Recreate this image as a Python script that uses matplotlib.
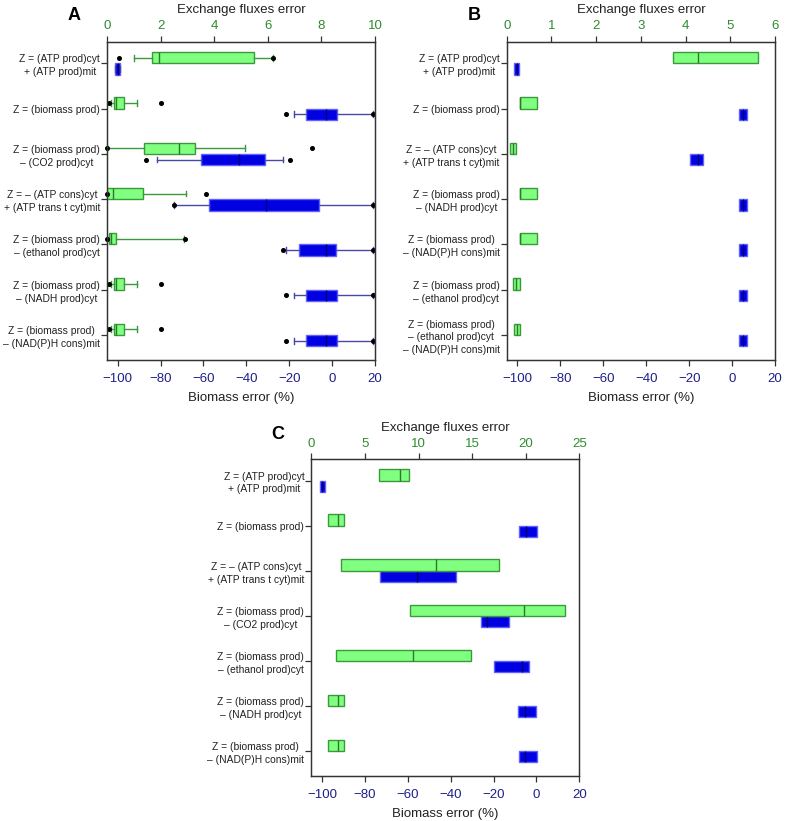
import matplotlib
matplotlib.use("Agg")
import matplotlib.pyplot as plt
import numpy as np
from matplotlib import font_manager

# ---------------- data ----------------
labels_AC = [
    "Z = (ATP prod)cyt\n+ (ATP prod)mit",
    "Z = (biomass prod)",
    "Z = (biomass prod)\n– (CO2 prod)cyt",
    "Z = – (ATP cons)cyt\n+ (ATP trans t cyt)mit",
    "Z = (biomass prod)\n– (ethanol prod)cyt",
    "Z = (biomass prod)\n– (NADH prod)cyt",
    "Z = (biomass prod)\n– (NAD(P)H cons)mit",
]
labels_C = [
    "Z = (ATP prod)cyt\n+ (ATP prod)mit",
    "Z = (biomass prod)",
    "Z = – (ATP cons)cyt\n+ (ATP trans t cyt)mit",
    "Z = (biomass prod)\n– (CO2 prod)cyt",
    "Z = (biomass prod)\n– (ethanol prod)cyt",
    "Z = (biomass prod)\n– (NADH prod)cyt",
    "Z = (biomass prod)\n– (NAD(P)H cons)mit",
]
labels_B = [
    "Z = (ATP prod)cyt\n+ (ATP prod)mit",
    "Z = (biomass prod)",
    "Z = – (ATP cons)cyt\n+ (ATP trans t cyt)mit",
    "Z = (biomass prod)\n– (NADH prod)cyt",
    "Z = (biomass prod)\n– (NAD(P)H cons)mit",
    "Z = (biomass prod)\n– (ethanol prod)cyt",
    "Z = (biomass prod)\n– (ethanol prod)cyt\n– (NAD(P)H cons)mit",
]

# Panel A: exchange fluxes error (green, top axis)
A_green_lo = [1.02, 0.14, 0.00, 0.01, 0.07, 0.14, 0.14]
A_green_q1 = [1.69, 0.27, 1.39, 0.01, 0.07, 0.27, 0.27]
A_green_med = [1.93, 0.33, 2.70, 0.21, 0.15, 0.33, 0.33]
A_green_q3 = [5.50, 0.62, 3.27, 1.35, 0.34, 0.62, 0.62]
A_green_hi = [6.19, 1.12, 5.16, 2.94, 2.87, 1.12, 1.12]
A_green_dots = [[0.46, 6.19], [0.07, 2.02], [-0.01, 7.66], [0.0, 3.68],
                [0.0, 2.90], [0.07, 2.02], [0.07, 2.02]]
# Panel A: biomass error (blue, bottom axis)
A_blue_lo = [-101.3, -17.9, -81.8, -73.7, -21.5, -17.9, -17.9]
A_blue_q1 = [-101.3, -12.0, -61.2, -57.2, -15.6, -12.0, -12.0]
A_blue_med = [-100.0, -2.7, -43.6, -30.8, -3.0, -2.7, -2.7]
A_blue_q3 = [-98.9, 2.2, -31.5, -5.9, 1.9, 2.2, 2.2]
A_blue_hi = [-98.9, 19.2, -22.9, 19.2, 19.2, 19.2, 19.2]
A_blue_dots = [[], [-21.5, 19.2], [-86.8, -19.5], [-73.7, 19.2],
               [-23.1, 19.2], [-21.5, 19.2], [-21.5, 19.2]]

# Panel B
B_green_q1 = [3.73, 0.30, 0.07, 0.30, 0.30, 0.13, 0.17]
B_green_med = [4.27, 0.30, 0.13, 0.30, 0.30, 0.20, 0.22]
B_green_q3 = [5.63, 0.67, 0.20, 0.67, 0.67, 0.30, 0.30]
B_blue_q1 = [-101.4, 3.0, -19.7, 3.0, 3.0, 3.0, 3.0]
B_blue_med = [-100.0, 5.0, -16.0, 5.0, 5.0, 5.0, 5.0]
B_blue_q3 = [-99.3, 6.9, -13.4, 6.9, 6.9, 6.9, 6.9]

# Panel C
C_green_q1 = [6.34, 1.59, 2.77, 9.21, 2.30, 1.59, 1.59]
C_green_med = [8.30, 2.52, 11.60, 19.84, 9.51, 2.52, 2.52]
C_green_q3 = [9.14, 3.08, 17.51, 23.67, 14.86, 3.08, 3.08]
C_blue_q1 = [-100.8, -8.3, -72.9, -25.9, -19.7, -8.5, -8.2]
C_blue_med = [-100.0, -4.9, -55.8, -23.2, -6.5, -5.4, -5.1]
C_blue_q3 = [-98.8, 0.3, -37.5, -12.7, -3.5, 0.0, 0.3]

bottom_ticks = [-100, -80, -60, -40, -20, 0, 20]
A_top_ticks = [0, 2, 4, 6, 8, 10]
B_top_ticks = [0, 1, 2, 3, 4, 5, 6]
C_top_ticks = [0, 5, 10, 15, 20, 25]

# ---------------- style ----------------
names = {f.name for f in font_manager.fontManager.ttflist}
plt.rcParams['font.family'] = ['Liberation Sans', 'DejaVu Sans']
label_family = 'Liberation Sans Narrow' if 'Liberation Sans Narrow' in names else 'Liberation Sans'
label_size = 9 if label_family == 'Liberation Sans Narrow' else 7.4

G_FILL, G_EDGE, G_TICK = '#80ff80', '#3a9a3a', '#2e8b2e'
B_FILL, B_EDGE, B_LINE, B_TICK = '#0000e0', '#6060ff', '#4848a8', '#1f1f8a'
SPINE = '#333333'


def stats_list(lo, q1, med, q3, hi, dots):
    return [dict(whislo=a, q1=b, med=c, q3=d, whishi=e, fliers=np.array(f, dtype=float))
            for a, b, c, d, e, f in zip(lo, q1, med, q3, hi, dots)]


def draw_panel(rect, letter, letter_xy, labels, top_max, top_ticks,
               g_stats, b_stats, whiskers):
    ax = fig.add_axes(rect)
    axt = ax.twiny()
    n = len(labels)
    pos = np.arange(n)
    common = dict(orientation='horizontal', widths=0.25, patch_artist=True,
                  manage_ticks=False, showcaps=whiskers, showfliers=whiskers,
                  capwidths=0.13)
    rb = ax.bxp(b_stats, positions=pos + 0.125,
                boxprops=dict(facecolor=B_FILL, edgecolor=B_EDGE, linewidth=1.0),
                whiskerprops=dict(color=B_LINE, linewidth=1.0),
                capprops=dict(color=B_LINE, linewidth=1.0),
                medianprops=dict(color='#000070', linewidth=1.0),
                flierprops=dict(marker='o', markersize=2.6, markerfacecolor='black',
                                markeredgecolor='black'),
                **common)
    rg = axt.bxp(g_stats, positions=pos - 0.125,
                 boxprops=dict(facecolor=G_FILL, edgecolor=G_EDGE, linewidth=1.0),
                 whiskerprops=dict(color=G_EDGE, linewidth=1.0),
                 capprops=dict(color=G_EDGE, linewidth=1.0),
                 medianprops=dict(color='#2a7a2a', linewidth=1.0),
                 flierprops=dict(marker='o', markersize=2.6, markerfacecolor='black',
                                 markeredgecolor='black'),
                 **common)
    for r in (rb, rg):
        for fl in r['fliers']:
            fl.set_clip_on(False)

    ax.set_xlim(-105, 20)
    axt.set_xlim(0, top_max)
    ax.set_ylim(n - 0.45, -0.47)
    ax.set_xticks(bottom_ticks)
    axt.set_xticks(top_ticks)
    ax.set_yticks(pos)
    ax.set_yticklabels(labels, fontfamily=label_family, fontsize=label_size,
                       color='#222222', linespacing=1.35)
    for t in ax.get_yticklabels():
        t.set_multialignment('center')

    ax.tick_params(axis='x', direction='out', length=4, width=0.9, pad=5,
                   labelsize=9.5, labelcolor=B_TICK, color=SPINE)
    axt.tick_params(axis='x', direction='out', length=4, width=0.9, pad=3,
                    labelsize=9.5, labelcolor=G_TICK, color=SPINE)
    ax.tick_params(axis='y', direction='out', length=4, width=0.9, pad=1,
                   color=SPINE, right=False)
    for a in (ax, axt):
        for s in a.spines.values():
            s.set_color(SPINE)
            s.set_linewidth(0.9)
    ax.set_xlabel('Biomass error (%)', fontsize=9.5, labelpad=5.5, color='#222222')
    axt.set_xlabel('Exchange fluxes error', fontsize=9.5, labelpad=5, color='#222222')
    fig.text(letter_xy[0] / 785, 1 - letter_xy[1] / 821, letter, fontsize=13,
             fontweight='bold', ha='center', va='center')
    return ax


fig = plt.figure(figsize=(7.85, 8.21), dpi=100)

gA = stats_list(A_green_lo, A_green_q1, A_green_med, A_green_q3, A_green_hi, A_green_dots)
bA = stats_list(A_blue_lo, A_blue_q1, A_blue_med, A_blue_q3, A_blue_hi, A_blue_dots)
draw_panel([107 / 785, 1 - 360 / 821, 268 / 785, 318 / 821], 'A', (74, 16),
           labels_AC, 10, A_top_ticks, gA, bA, True)

gB = stats_list(B_green_q1, B_green_q1, B_green_med, B_green_q3, B_green_q3,
                [[] for _ in B_green_q1])
bB = stats_list(B_blue_q1, B_blue_q1, B_blue_med, B_blue_q3, B_blue_q3,
                [[] for _ in B_blue_q1])
draw_panel([506.7 / 785, 1 - 360 / 821, 268.3 / 785, 318 / 821], 'B', (474, 16),
           labels_B, 6, B_top_ticks, gB, bB, False)

gC = stats_list(C_green_q1, C_green_q1, C_green_med, C_green_q3, C_green_q3,
                [[] for _ in C_green_q1])
bC = stats_list(C_blue_q1, C_blue_q1, C_blue_med, C_blue_q3, C_blue_q3,
                [[] for _ in C_blue_q1])
draw_panel([311.3 / 785, 1 - 776 / 821, 268 / 785, 316.7 / 821], 'C', (278, 434),
           labels_C, 25, C_top_ticks, gC, bC, False)

fig.savefig('out.png', dpi=100)
